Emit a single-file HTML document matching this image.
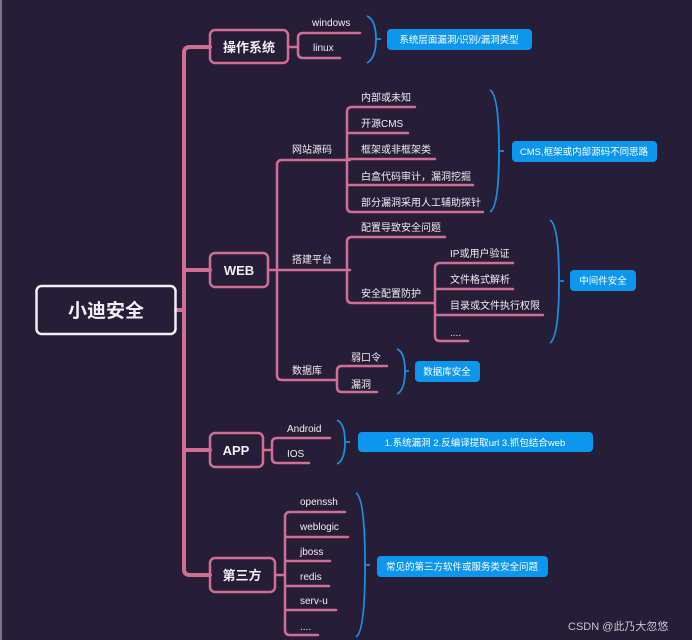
<!DOCTYPE html>
<html><head><meta charset="utf-8"><style>
html,body{margin:0;padding:0;background:#261d36;}
svg{display:block}
text{font-family:"Liberation Sans","Noto Sans CJK SC",sans-serif;fill:#f2eef5;}
.s{font-size:10px;}
.b{font-size:13px;font-weight:bold;}
.l{font-size:9.5px;fill:#fff;}
</style></head><body>
<svg width="692" height="640" viewBox="0 0 692 640" xmlns="http://www.w3.org/2000/svg">
<rect x="0" y="0" width="692" height="640" fill="#261d36"/>
<rect x="0" y="0" width="2" height="640" fill="#7a7585"/>
<g fill="none" stroke="#d06f93" stroke-linecap="round">
<!-- trunk -->
<path d="M210 47 H190 Q184 47 184 53 V569 Q184 575 190 575 H210" stroke-width="4"/>
<path d="M176 310 H184 M184 270 H210 M184 450 H210" stroke-width="4"/>
<g stroke-width="2.5">
<!-- OS -->
<path d="M288 47 H298 M360 33 H303 Q298 33 298 38 V53 Q298 58 303 58 H340"/>
<!-- WEB -->
<path d="M268 270 H350 M350 160 H282 Q277 160 277 165 V375 Q277 380 282 380 H336"/>
<path d="M415 107 H352 Q347 107 347 112 V207 Q347 212 352 212 H483 M347 133 H408 M347 159 H435 M347 185 H473"/>
<path d="M445 237 H352 Q347 237 347 242 V298 Q347 303 352 303 H435"/>
<path d="M513 263 H440 Q435 263 435 268 V336 Q435 341 440 341 H468 M435 289 H513 M435 315 H543"/>
<path d="M387 366 H342 Q337 366 337 371 V387 Q337 392 342 392 H377"/>
<!-- APP -->
<path d="M263 450 H272 M330 438 H277 Q272 438 272 443 V458 Q272 463 277 463 H309"/>
<!-- third -->
<path d="M275 575 H285 M345 512 H290 Q285 512 285 517 V630 Q285 635 290 635 H318 M285 537 H348 M285 561 H330 M285 586 H329 M285 610 H336"/>
</g>
<!-- boxes -->
<rect x="36.5" y="286" width="139" height="48" rx="5" stroke="#f1eef4" stroke-width="2.5"/>
<rect x="210" y="30" width="78" height="33" rx="5" stroke-width="2.5"/>
<rect x="210" y="253" width="58" height="34" rx="5" stroke-width="2.5"/>
<rect x="210" y="433" width="53" height="34" rx="5" stroke-width="2.5"/>
<rect x="210" y="558" width="65" height="34" rx="5" stroke-width="2.5"/>
</g>
<!-- blue brackets -->
<g fill="none" stroke="#1a8fe0" stroke-width="1.8">
<path d="M367 16 Q376 20 376 39 Q376 58 367 63 M376 39 H381"/>
<path d="M490 90 Q499 95 499 151 Q499 207 490 212 M499 151 H504"/>
<path d="M550 220 Q559 225 559 281 Q559 337 550 343 M559 281 H564"/>
<path d="M397 349 Q405 352 405 371 Q405 390 397 394 M405 371 H409"/>
<path d="M337 420 Q345 424 345 442 Q345 460 337 464 M345 442 H350"/>
<path d="M356 493 Q365 498 365 565 Q365 632 356 637 M365 565 H370"/>
</g>
<g fill="#0d96ee">
<rect x="387" y="29" width="145" height="21" rx="4"/>
<rect x="512" y="141" width="145" height="21" rx="4"/>
<rect x="570" y="270" width="66" height="21" rx="4"/>
<rect x="415" y="361" width="65" height="21" rx="4"/>
<rect x="358" y="432" width="235" height="20" rx="4"/>
<rect x="377" y="556" width="171" height="21" rx="4"/>
</g>
<text x="106" y="317" text-anchor="middle" style="font-size:19px;font-weight:bold">小迪安全</text>
<text x="249" y="52" text-anchor="middle" class="b">操作系统</text>
<text x="239" y="275" text-anchor="middle" class="b">WEB</text>
<text x="236" y="455" text-anchor="middle" class="b">APP</text>
<text x="242" y="580" text-anchor="middle" class="b">第三方</text>
<text x="312" y="26" class="s">windows</text>
<text x="313" y="51" class="s">linux</text>
<text x="292" y="153" class="s">网站源码</text>
<text x="292" y="263" class="s">搭建平台</text>
<text x="292" y="374" class="s">数据库</text>
<text x="361" y="101" class="s">内部或未知</text>
<text x="361" y="127" class="s">开源CMS</text>
<text x="361" y="153" class="s">框架或非框架类</text>
<text x="361" y="180" class="s">白盒代码审计，漏洞挖掘</text>
<text x="361" y="206" class="s">部分漏洞采用人工辅助探针</text>
<text x="361" y="231" class="s">配置导致安全问题</text>
<text x="361" y="297" class="s">安全配置防护</text>
<text x="450" y="257" class="s">IP或用户验证</text>
<text x="450" y="283" class="s">文件格式解析</text>
<text x="450" y="309" class="s">目录或文件执行权限</text>
<text x="450" y="336" class="s">....</text>
<text x="351" y="361" class="s">弱口令</text>
<text x="351" y="388" class="s">漏洞</text>
<text x="287" y="432" class="s">Android</text>
<text x="287" y="457" class="s">IOS</text>
<text x="300" y="505" class="s">openssh</text>
<text x="300" y="530" class="s">weblogic</text>
<text x="300" y="555" class="s">jboss</text>
<text x="300" y="580" class="s">redis</text>
<text x="300" y="604" class="s">serv-u</text>
<text x="300" y="630" class="s">....</text>
<text x="459" y="43" text-anchor="middle" class="l">系统层面漏洞/识别/漏洞类型</text>
<text x="584" y="155" text-anchor="middle" class="l">CMS,框架或内部源码不同思路</text>
<text x="603" y="284" text-anchor="middle" class="l">中间件安全</text>
<text x="447" y="375" text-anchor="middle" class="l">数据库安全</text>
<text x="475" y="446" text-anchor="middle" class="l">1.系统漏洞 2.反编译提取url 3.抓包结合web</text>
<text x="462" y="570" text-anchor="middle" class="l">常见的第三方软件或服务类安全问题</text>
<text x="568" y="630" style="font-size:11px;fill:#c9c6cf">CSDN @此乃大忽悠</text>
</svg>
</body></html>
